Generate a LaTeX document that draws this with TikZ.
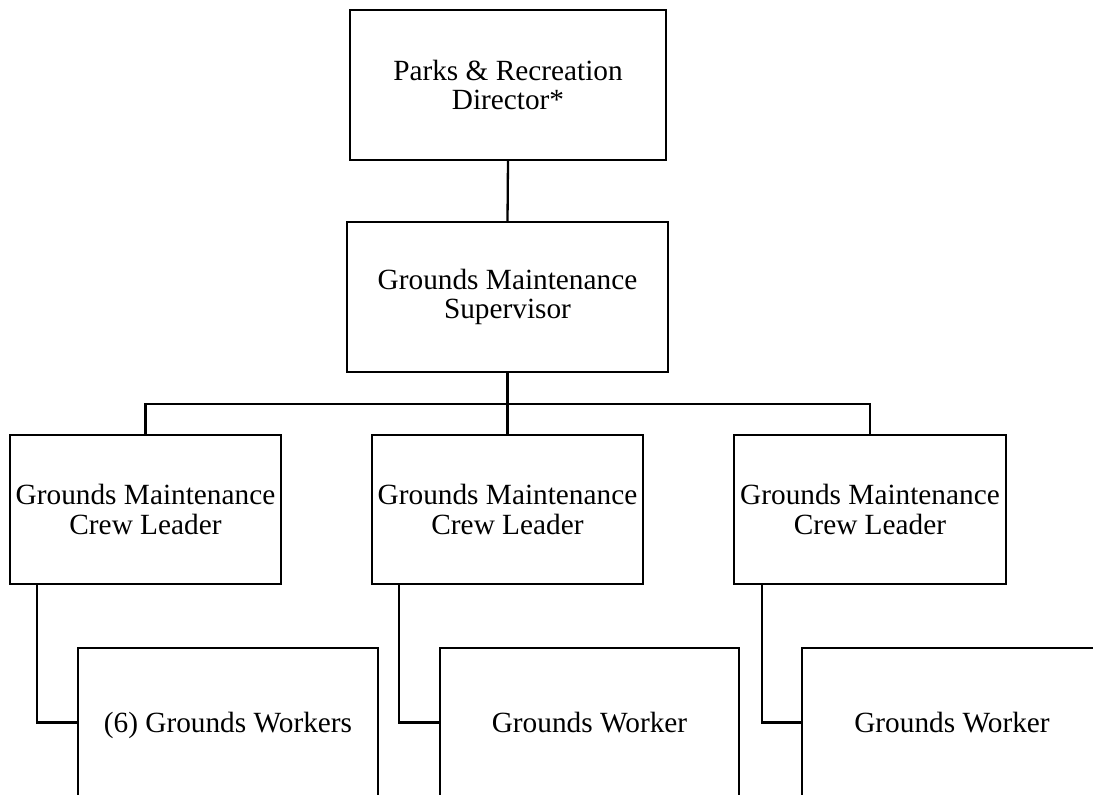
\documentclass[tikz,border=0pt]{standalone}
\usepackage{fontspec}
\setmainfont{Liberation Serif}
\begin{document}
\begin{tikzpicture}[x=1pt,y=-1pt,
  orgbox/.style={rectangle, inner sep=0pt, align=center,
    font=\fontsize{29.3}{29.5}\selectfont},
  workerbox/.style={orgbox, minimum height=149pt, text height=20pt, text depth=0pt},
  link/.style={draw=black, line width=2.3pt},
  frame/.style={draw=black, line width=2.3pt}]
\clip (0,0) rectangle (1093,795);

% top of the hierarchy
\node[orgbox, minimum width=316pt, minimum height=150pt] (dir) at (508,85)
  {Parks \& Recreation\\Director*};
\node[orgbox, minimum width=321pt, minimum height=150pt] (sup) at (507.5,297)
  {Grounds Maintenance\\Supervisor};

% crew leaders
\node[orgbox, minimum width=271pt, minimum height=149pt] (cl1) at (145.5,509.5)
  {Grounds Maintenance\\Crew Leader};
\node[orgbox, minimum width=271pt, minimum height=149pt] (cl2) at (507.5,509.5)
  {Grounds Maintenance\\Crew Leader};
\node[orgbox, minimum width=272pt, minimum height=149pt] (cl3) at (870,509.5)
  {Grounds Maintenance\\Crew Leader};

% workers
\node[workerbox, minimum width=300pt] (w1) at (228,722.5)
  {(6) Grounds Workers};
\node[workerbox, minimum width=299pt] (w2) at (589.5,722.5)
  {Grounds Worker};
\node[workerbox, minimum width=300pt] (w3) at (952,722.5)
  {Grounds Worker};

% box outlines
\foreach \b in {dir,sup,cl1,cl2,cl3,w1,w2,w3}
  \draw[frame] (\b.north west) rectangle (\b.south east);

% connectors
\coordinate (bus) at (507.5,404);
\draw[link] (dir.south) -- (sup.north);
\draw[link] (sup.south) -- (cl2.north);
\draw[link] (cl1.north) |- (bus) -| (cl3.north);
\draw[link] ([xshift=27pt]cl1.south west) |- (w1.west);
\draw[link] ([xshift=27pt]cl2.south west) |- (w2.west);
\draw[link] ([xshift=28pt]cl3.south west) |- (w3.west);
\end{tikzpicture}
\end{document}
